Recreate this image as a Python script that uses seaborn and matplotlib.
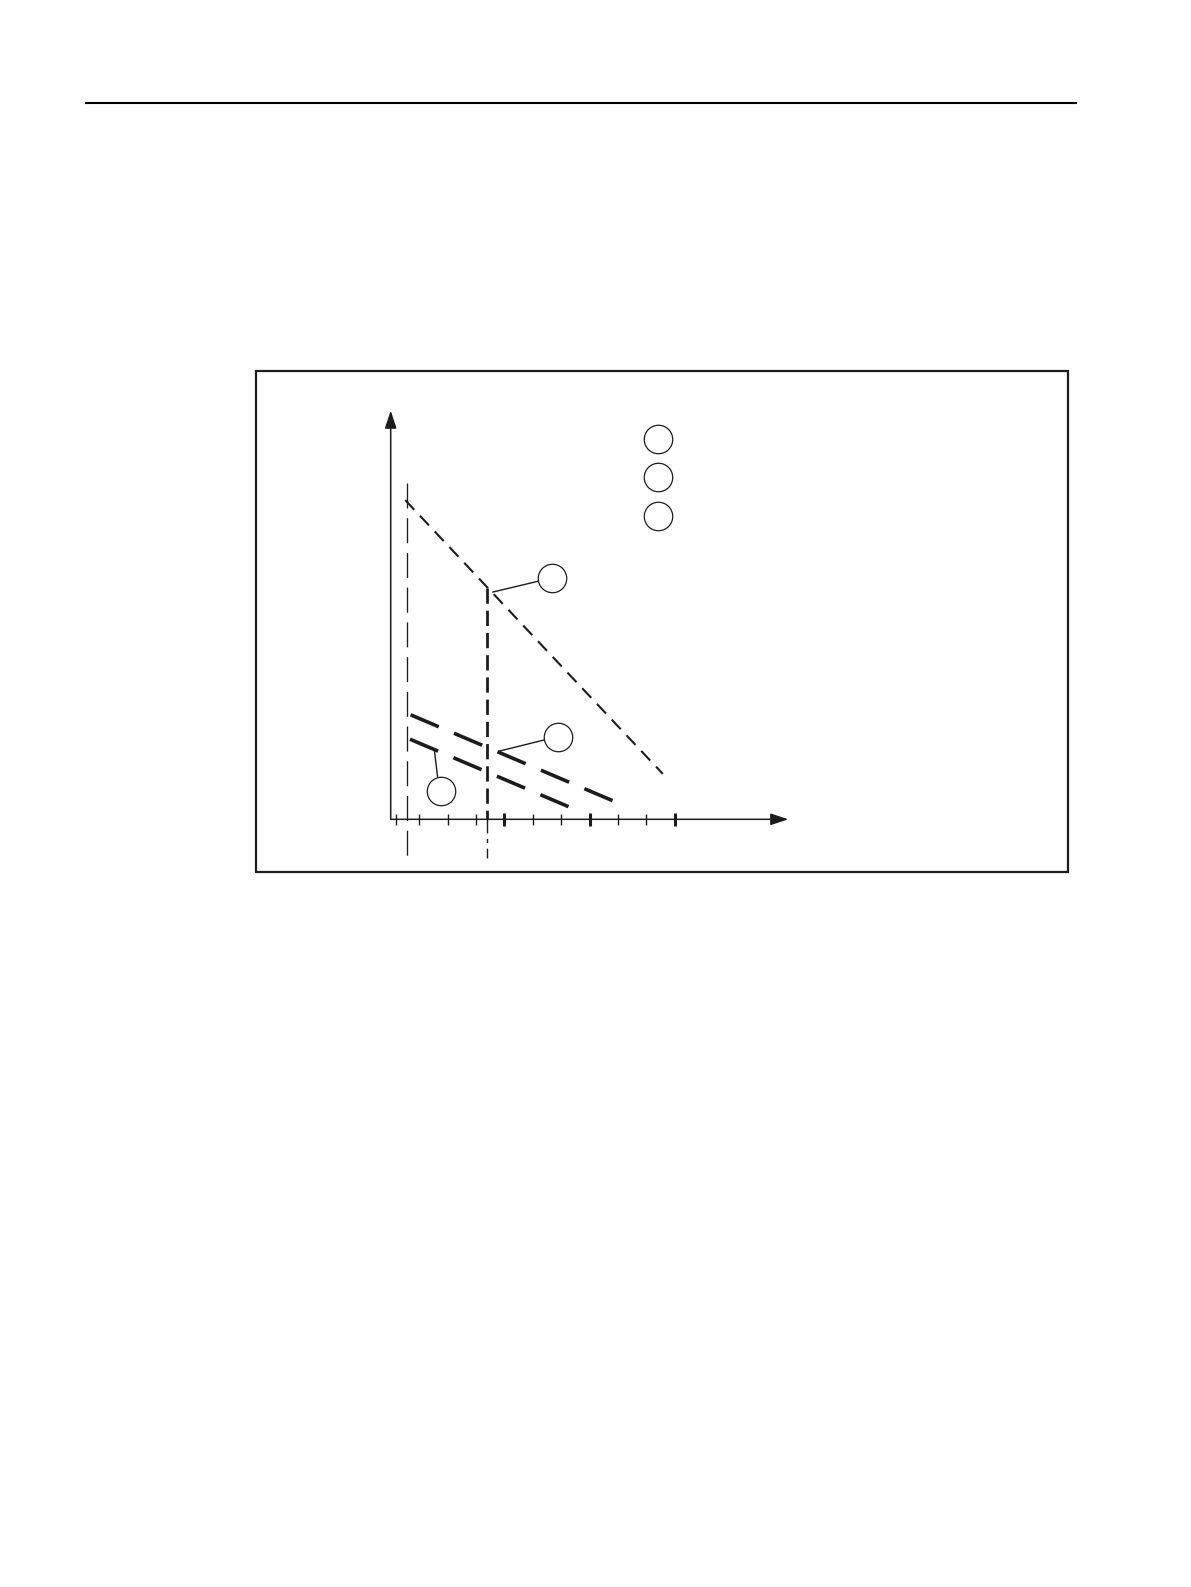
import numpy as np
import pandas as pd
import matplotlib
matplotlib.use("Agg")
import matplotlib.pyplot as plt
from matplotlib.patches import Rectangle
import seaborn as sns

sns.set_theme(style="white")
plt.rcParams["font.family"] = ["DejaVu Sans"]
plt.rcParams["lines.scale_dashes"] = False

INK = "#1c1c1c"

# ---- data (axis units: one x tick = 1 unit) ----
upper_x = [0.51, 9.58]
upper_y = [11.24, 1.60]
mid_x = [0.70, 7.98]
mid_y = [3.68, 0.585]
low_x = [0.68, 6.39]
low_y = [2.82, 0.39]

ref_thin_x = 0.58
ref_thin_y = [11.83, -1.41]
ref_thick_x = 3.39
ref_thick_y_top = [8.13, 0.0]
ref_thick_y_bot = [0.0, -1.36]

minor_ticks = [0.2, 1, 2, 3, 5, 6, 8, 9]
major_ticks = [4, 7, 10]

legend_x = [9.40, 9.40, 9.40]
legend_y = [13.39, 12.04, 10.69]
callout_x = [5.67, 5.88, 1.76]
callout_y = [8.50, 2.89, 1.00]
leader_x0 = [3.59, 3.82, 1.54]
leader_y0 = [8.00, 2.40, 2.42]
leader_x1 = [5.18, 5.39, 1.65]
leader_y1 = [8.38, 2.79, 1.50]

x_axis_end = 14.0
y_axis_end = 14.39

# ---- figure: 1 unit = 28.4 px ----
W, H, DPI = 1191, 1587, 100
PX = 28.4
OX, OY = 390.7, 819.3
fig = plt.figure(figsize=(W / DPI, H / DPI), dpi=DPI)
fig.patch.set_facecolor("white")
ax = fig.add_axes([0, 0, 1, 1])
ax.set_xlim(-OX / PX, (W - OX) / PX)
ax.set_ylim((OY - H) / PX, OY / PX)
ax.axis("off")

# page rule and frame
ax.plot([(85 - OX) / PX, (1077 - OX) / PX], [(OY - 103.3) / PX] * 2,
        color="black", lw=1.5, solid_capstyle="butt")
ax.add_patch(Rectangle(((255.7 - OX) / PX, (OY - 872.3) / PX),
                       (1068.3 - 255.7) / PX, (872.3 - 371) / PX,
                       fill=False, edgecolor=INK, lw=1.6))

# axes with arrows
arrow = dict(arrowstyle="-|>,head_length=0.6,head_width=0.2",
             mutation_scale=18, lw=1.1, color=INK, shrinkA=0, shrinkB=0)
ax.annotate("", xy=(x_axis_end, 0), xytext=(0, 0), arrowprops=arrow)
ax.annotate("", xy=(0, y_axis_end), xytext=(0, 0), arrowprops=arrow)

# ticks
ax.vlines(minor_ticks, -0.19, 0.19, color=INK, lw=1.0)
ax.vlines(major_ticks, -0.22, 0.22, color=INK, lw=2.2)

# reference verticals
sns.lineplot(x=[ref_thin_x, ref_thin_x], y=ref_thin_y, ax=ax, color=INK,
             lw=0.95, linestyle=(0, (18, 7)), estimator=None, sort=False)
sns.lineplot(x=[ref_thick_x, ref_thick_x], y=ref_thick_y_top, ax=ax, color=INK,
             lw=2.0, linestyle=(0, (11, 5)), estimator=None, sort=False)
sns.lineplot(x=[ref_thick_x, ref_thick_x], y=ref_thick_y_bot, ax=ax, color=INK,
             lw=1.0, linestyle=(0, (10, 4, 3, 4)), estimator=None, sort=False)

# data lines
sns.lineplot(x=upper_x, y=upper_y, ax=ax, color=INK, lw=1.5,
             linestyle=(0, (9.5, 6)), estimator=None, sort=False)
sns.lineplot(x=mid_x, y=mid_y, ax=ax, color=INK, lw=2.6,
             linestyle=(0, (22, 12)), estimator=None, sort=False)
sns.lineplot(x=low_x, y=low_y, ax=ax, color=INK, lw=2.6,
             linestyle=(0, (22, 12)), estimator=None, sort=False)

# leaders
for x0, y0, x1, y1 in zip(leader_x0, leader_y0, leader_x1, leader_y1):
    ax.plot([x0, x1], [y0, y1], color=INK, lw=1.0)

# circles
circ = pd.DataFrame({"x": legend_x + callout_x, "y": legend_y + callout_y})
sns.scatterplot(data=circ, x="x", y="y", ax=ax, marker="o", s=420,
                facecolors="white", edgecolor=INK, linewidth=0.9, zorder=5)

fig.savefig("out.png", dpi=DPI, facecolor="white")
